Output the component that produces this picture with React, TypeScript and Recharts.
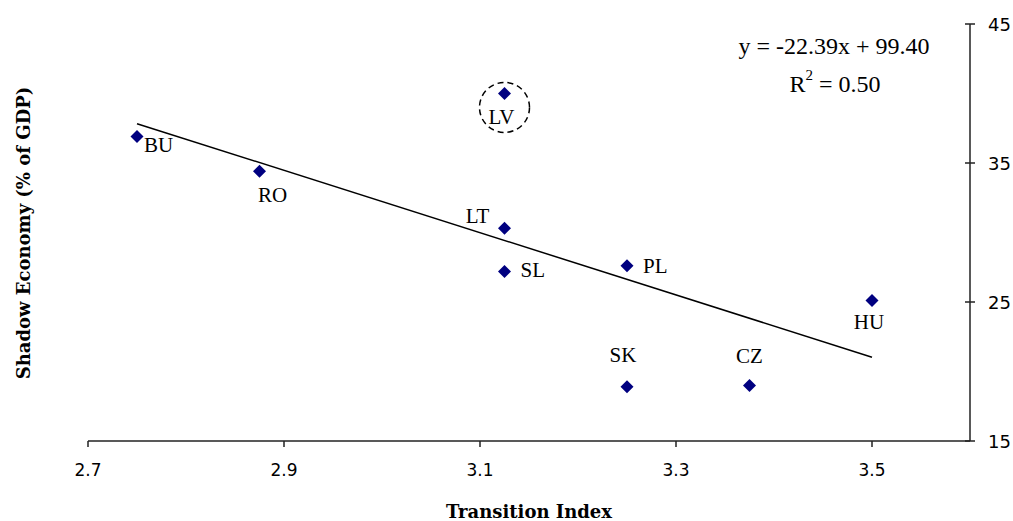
import {
  ScatterChart,
  Scatter,
  XAxis,
  YAxis,
  ReferenceDot,
} from 'recharts';

// Transition index vs. shadow economy, by country
const countries = ['BU', 'RO', 'LV', 'LT', 'SL', 'PL', 'HU', 'SK', 'CZ'];
const transitionIndex = [2.75, 2.875, 3.125, 3.125, 3.125, 3.25, 3.5, 3.25, 3.375];
const shadowEconomy = [36.9, 34.4, 40.0, 30.3, 27.2, 27.6, 25.1, 18.9, 19.0];

// Linear fit y = -22.39x + 99.40, at the ends of the data range
const trendX = [2.75, 3.5];
const trendY = [37.83, 21.03];

const xTicks = [2.7, 2.9, 3.1, 3.3, 3.5];
const yTicks = [15, 25, 35, 45];

// where each country's label sits relative to its marker
const labelPlacement: Record<string, { dx: number; dy: number; anchor: string }> = {
  BU: { dx: 7, dy: 8, anchor: 'start' },
  RO: { dx: 13, dy: 24, anchor: 'middle' },
  LV: { dx: -3, dy: 23, anchor: 'middle' },
  LT: { dx: -27, dy: -12, anchor: 'middle' },
  SL: { dx: 16, dy: -1, anchor: 'start' },
  PL: { dx: 16, dy: 0, anchor: 'start' },
  HU: { dx: -3, dy: 21, anchor: 'middle' },
  SK: { dx: -4, dy: -32, anchor: 'middle' },
  CZ: { dx: 0, dy: -29, anchor: 'middle' },
};

const points = countries.map((name, i) => ({
  name,
  x: transitionIndex[i],
  y: shadowEconomy[i],
}));

const trend = trendX.map((x, i) => ({ x, y: trendY[i] }));

const SERIF = '"Liberation Serif", "Times New Roman", serif';
const TITLE = '"DejaVu Serif", serif';
const SANS = '"DejaVu Sans", sans-serif';
const TICK_SIZE = 6;
const TICK_MARGIN = 12;

function CountryMarker(props: any) {
  const { cx, cy, payload } = props;
  const place = labelPlacement[payload.name];
  const s = 6.5;
  return (
    <g>
      <polygon
        points={`${cx},${cy - s} ${cx + s},${cy} ${cx},${cy + s} ${cx - s},${cy}`}
        fill="#000080"
      />
      <text
        x={cx + place.dx}
        y={cy + place.dy}
        textAnchor={place.anchor as any}
        dominantBaseline="central"
        fontFamily={SERIF}
        fontSize={21}
        fill="#000"
      >
        {payload.name}
      </text>
    </g>
  );
}

// right axis ticks cross the axis line on both sides
function RightTick(props: any) {
  const { x, y, payload } = props;
  const axisX = x - TICK_SIZE - TICK_MARGIN;
  return (
    <g>
      <line x1={axisX - 5} y1={y} x2={axisX + 5} y2={y} stroke="#222" strokeWidth={1.5} />
      <text
        x={x}
        y={y}
        dominantBaseline="central"
        fontFamily={SANS}
        fontSize={18}
        fill="#000"
      >
        {payload.value}
      </text>
    </g>
  );
}

export default function App() {
  return (
    <div style={{ position: 'absolute', left: 0, top: 0, width: 1013, height: 521, background: '#fff' }}>
      <ScatterChart
        width={1013}
        height={521}
        margin={{ top: 24, right: 0, bottom: 0, left: 88 }}
      >
        <XAxis
          type="number"
          dataKey="x"
          domain={[2.7, 3.6]}
          ticks={xTicks}
          tickFormatter={(v: number) => v.toFixed(1)}
          height={80}
          axisLine={{ stroke: '#222', strokeWidth: 1.5 }}
          tickLine={{ stroke: '#222', strokeWidth: 1.5 }}
          tickSize={TICK_SIZE}
          tickMargin={17}
          tick={{ fontFamily: SANS, fontSize: 17, fill: '#000' }}
          allowDataOverflow
        />
        <YAxis
          type="number"
          dataKey="y"
          orientation="right"
          domain={[15, 45]}
          ticks={yTicks}
          width={43}
          axisLine={{ stroke: '#222', strokeWidth: 1.5 }}
          tickLine={false}
          tickSize={TICK_SIZE}
          tickMargin={TICK_MARGIN}
          tick={<RightTick />}
          allowDataOverflow
        />
        <Scatter
          data={trend}
          line={{ stroke: '#000', strokeWidth: 1.5 }}
          shape={() => null}
          isAnimationActive={false}
        />
        <Scatter data={points} shape={<CountryMarker />} isAnimationActive={false} />
        <ReferenceDot
          x={3.125}
          y={39.0}
          r={25}
          fill="none"
          stroke="#000"
          strokeWidth={1.5}
          strokeDasharray="6 4"
        />
      </ScatterChart>
      <svg
        width={1013}
        height={521}
        style={{ position: 'absolute', left: 0, top: 0, pointerEvents: 'none' }}
      >
        <text
          x={23}
          y={233}
          transform="rotate(-90 23 233)"
          textAnchor="middle"
          dominantBaseline="central"
          fontFamily={TITLE}
          fontWeight="bold"
          fontSize={18}
        >
          Shadow Economy (% of GDP)
        </text>
        <text
          x={529}
          y={511}
          textAnchor="middle"
          dominantBaseline="central"
          fontFamily={TITLE}
          fontWeight="bold"
          fontSize={18}
        >
          Transition Index
        </text>
        <text
          x={834}
          y={46}
          textAnchor="middle"
          dominantBaseline="central"
          fontFamily={SERIF}
          fontSize={24}
        >
          y = -22.39x + 99.40
        </text>
        <text
          x={835}
          y={84}
          textAnchor="middle"
          dominantBaseline="central"
          fontFamily={SERIF}
          fontSize={24}
        >
          R<tspan dy={-9} fontSize={15}>2</tspan>
          <tspan dy={9}> = 0.50</tspan>
        </text>
      </svg>
    </div>
  );
}
